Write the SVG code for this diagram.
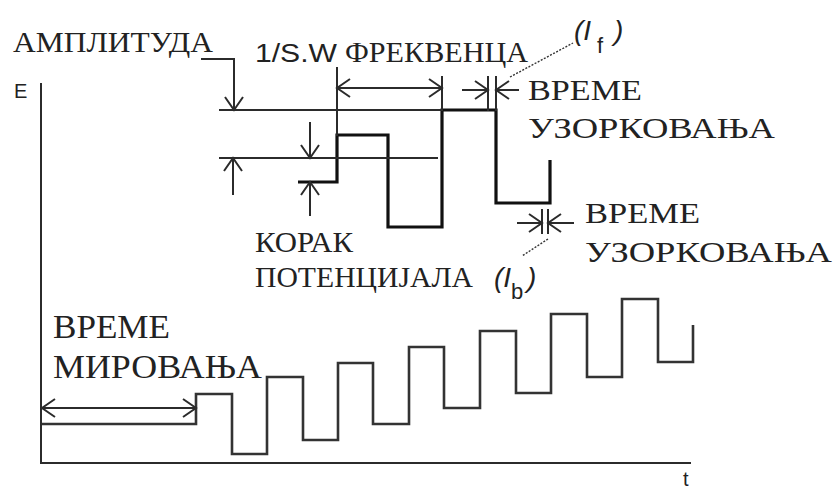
<svg xmlns="http://www.w3.org/2000/svg" width="838" height="492" viewBox="0 0 838 492">
<style>
.ln{fill:none;stroke:#2b2b2b;stroke-width:2;stroke-linecap:square}
.wave{fill:none;stroke:#333;stroke-width:2.6;stroke-linejoin:miter}
.thick{fill:none;stroke:#111;stroke-width:3.2;stroke-linejoin:miter}
.dot{fill:none;stroke:#333;stroke-width:1.4;stroke-dasharray:2 1.5}
.arr{marker-end:url(#ah)}
.darr{marker-start:url(#ah);marker-end:url(#ah)}
.sans{font-family:'Liberation Sans','DejaVu Sans',sans-serif;fill:#222}
.serif{font-family:'Liberation Serif','DejaVu Serif',serif;font-size:30px;fill:#222}
</style>
<defs>
<marker id="ah" markerUnits="userSpaceOnUse" viewBox="-15 -11 17 22" refX="0" refY="0" markerWidth="17" markerHeight="22" orient="auto-start-reverse">
<path d="M-13,-9 L0,0 L-13,9" fill="none" stroke="#2b2b2b" stroke-width="2"/>
</marker>
</defs>

<g id="axes">
<path class="ln" d="M41,84 V463 H690"/>
<text class="sans" x="14" y="98" font-size="20">E</text>
<text class="sans" x="683" y="486" font-size="20">t</text>
</g>

<g id="lower-waveform">
<path class="wave" d="M42,424 H196 V394 H232 V454 H267 V377 H303 V440 H338 V363 H373 V424 H409 V347 H444 V408 H480 V331 H516 V393 H551 V314 H587 V377 H622 V299 H658 V362 H693 V325"/>
</g>

<g id="upper-waveform">
<path class="thick" d="M298,182 H337 V135 H388 V227 H442 V110 H496 V203 H550 V160"/>
</g>

<g id="connectors">
<path class="ln arr" d="M202,59 H234 V110"/>
<path class="ln" d="M220,110 H442"/>
<path class="ln" d="M220,158 H437"/>
<path class="ln arr" d="M233,194 V158"/>
<path class="ln arr" d="M310,123 V158"/>
<path class="ln arr" d="M310,215 V182"/>
<path class="ln" d="M337,68 V135"/>
<path class="ln" d="M442,77 V110"/>
<path class="ln darr" d="M337,88 H442"/>
<path class="ln" d="M488,77 V110"/>
<path class="ln" d="M496,77 V110"/>
<path class="ln arr" d="M463,90 H488"/>
<path class="ln arr" d="M518,90 H496"/>
<path class="ln" d="M542,210 V233"/>
<path class="ln" d="M548,210 V233"/>
<path class="ln arr" d="M518,223 H542"/>
<path class="ln arr" d="M573,223 H548"/>
<path class="dot" d="M510,77 L573,43"/>
<path class="dot" d="M548,239 L522,256"/>
<path class="ln darr" d="M42,408 H196"/>
</g>

<g id="label-amplituda">
<text class="serif" x="13" y="52" textLength="200" lengthAdjust="spacingAndGlyphs">АМПЛИТУДА</text>
</g>
<g id="label-frekvenca">
<text class="sans" x="255" y="62" font-size="25" textLength="82" lengthAdjust="spacingAndGlyphs">1/S.W</text>
<text class="serif" x="345" y="62" textLength="183" lengthAdjust="spacingAndGlyphs">ФРЕКВЕНЦА</text>
</g>
<g id="label-sampling-1">
<text class="serif" x="528" y="100" textLength="114" lengthAdjust="spacingAndGlyphs">ВРЕМЕ</text>
<text class="serif" x="528" y="138" textLength="247" lengthAdjust="spacingAndGlyphs">УЗОРКОВАЊА</text>
</g>
<g id="label-sampling-2">
<text class="serif" x="585" y="223" textLength="115" lengthAdjust="spacingAndGlyphs">ВРЕМЕ</text>
<text class="serif" x="585" y="262" textLength="247" lengthAdjust="spacingAndGlyphs">УЗОРКОВАЊА</text>
</g>
<g id="label-korak">
<text class="serif" x="255" y="252" textLength="98" lengthAdjust="spacingAndGlyphs">КОРАК</text>
<text class="serif" x="255" y="287" textLength="218" lengthAdjust="spacingAndGlyphs">ПОТЕНЦИЈАЛА</text>
</g>
<g id="label-mirovanja">
<text class="serif" x="53" y="338" style="font-size:34px" textLength="117" lengthAdjust="spacingAndGlyphs">ВРЕМЕ</text>
<text class="serif" x="53" y="378" style="font-size:34px" textLength="209" lengthAdjust="spacingAndGlyphs">МИРОВАЊА</text>
</g>

<g id="label-if">
<text class="sans" x="574" y="40" font-size="28" font-style="italic">(I<tspan x="597" y="53" font-size="22" font-style="normal">f</tspan><tspan x="614" y="40">)</tspan></text>
</g>
<g id="label-ib">
<text class="sans" x="494" y="287" font-size="28" font-style="italic">(I<tspan x="511" y="299" font-size="22" font-style="normal">b</tspan><tspan x="527" y="287">)</tspan></text>
</g>
</svg>
